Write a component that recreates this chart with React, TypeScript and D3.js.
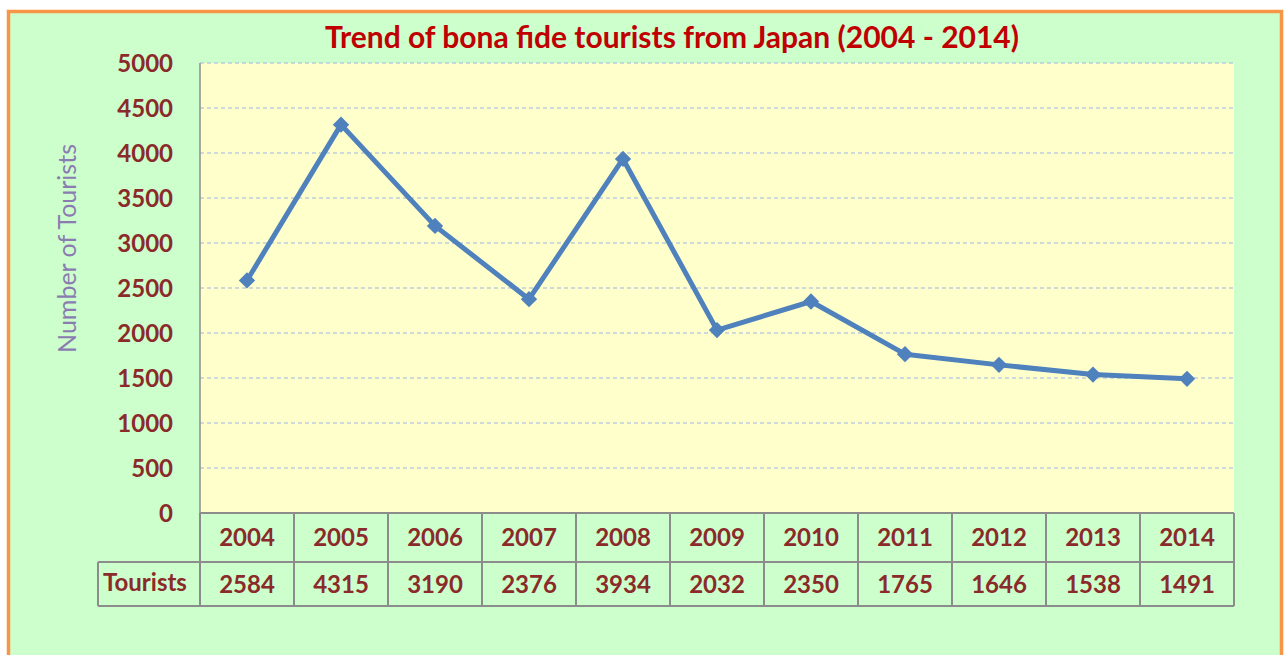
import React from "react";
import * as d3 from "d3";

const years: string[] = ["2004", "2005", "2006", "2007", "2008", "2009", "2010", "2011", "2012", "2013", "2014"];
const tourists: number[] = [2584, 4315, 3190, 2376, 3934, 2032, 2350, 1765, 1646, 1538, 1491];
const yTicks: number[] = [0, 500, 1000, 1500, 2000, 2500, 3000, 3500, 4000, 4500, 5000];
const titleText = "Trend of bona fide tourists from Japan (2004 - 2014)";
const yAxisTitle = "Number of Tourists";
const rowLabel = "Tourists";

const W = 1286;
const H = 655;
const plotL = 200;
const plotR = 1234;
const plotT = 63;
const plotB = 513;
const row1B = 562;
const row2B = 606;
const labelL = 98;

const FONT = "Lato, 'Open Sans', sans-serif";
const TXT = "#8B2A2A";

export default function App() {
  const x = d3.scaleBand<string>().domain(years).range([plotL, plotR]);
  const y = d3.scaleLinear().domain([0, 5000]).range([plotB, plotT]);
  const pts: [number, number][] = years.map((yr, i) => [x(yr)! + x.bandwidth() / 2, y(tourists[i])]);
  const line = d3.line<[number, number]>().x((d) => d[0]).y((d) => d[1])(pts) || "";
  const diamond = d3.symbol().type(d3.symbolDiamond2).size(170)() || "";

  return (
    <svg width={W} height={H} style={{ position: "absolute", left: 0, top: 0, background: "#fff" }}>
      <rect x={8.5} y={11.5} width={1273} height={700} fill="#CCFFCC" stroke="#F79646" strokeWidth={3.5} />
      <text x={672} y={48} textAnchor="middle" fontFamily={FONT} fontWeight={700} fontSize={30} fill="#C00000">
        {titleText}
      </text>
      <rect x={plotL} y={plotT} width={plotR - plotL} height={plotB - plotT} fill="#FFFFCC" />
      {yTicks.filter((t) => t > 0).map((t) => (
        <line key={t} x1={plotL} x2={plotR + 1} y1={y(t)} y2={y(t)} stroke="#9DB5E3" strokeWidth={1} strokeDasharray="4,3" />
      ))}
      <line x1={plotL} x2={plotL} y1={plotT} y2={plotB} stroke="#8C8C8C" strokeWidth={1.5} />
      {yTicks.map((t) => (
        <text key={t} x={173} y={y(t)} dy="0.36em" textAnchor="end" fontFamily={FONT} fontWeight={700} fontSize={24} fill={TXT}>
          {t}
        </text>
      ))}
      <text
        transform={`translate(76,${(145 + 352) / 2}) rotate(-90)`}
        textAnchor="middle"
        fontFamily={FONT}
        fontSize={25}
        fill="#8A7CB0"
      >
        {yAxisTitle}
      </text>
      {/* data table */}
      <g stroke="#8C8C8C" strokeWidth={2} fill="none">
        <line x1={plotL} x2={plotR} y1={plotB} y2={plotB} />
        <line x1={labelL} x2={plotR} y1={row1B} y2={row1B} />
        <line x1={labelL} x2={plotR} y1={row2B} y2={row2B} />
        <line x1={labelL} x2={labelL} y1={row1B} y2={row2B} />
        <line x1={plotL} x2={plotL} y1={plotB} y2={row2B} />
        {years.map((yr) => (
          <line key={yr} x1={x(yr)! + x.bandwidth()} x2={x(yr)! + x.bandwidth()} y1={plotB} y2={row2B} />
        ))}
      </g>
      {years.map((yr, i) => (
        <g key={yr} fontFamily={FONT} fontWeight={700} fontSize={24} fill={TXT} textAnchor="middle">
          <text x={x(yr)! + x.bandwidth() / 2} y={(plotB + row1B) / 2} dy="0.36em">{yr}</text>
          <text x={x(yr)! + x.bandwidth() / 2} y={(row1B + row2B) / 2} dy="0.36em">{tourists[i]}</text>
        </g>
      ))}
      <text x={labelL + 5} y={(row1B + row2B) / 2} dy="0.3em" fontFamily={FONT} fontWeight={700} fontSize={24} fill={TXT}>
        {rowLabel}
      </text>
      <path d={line} fill="none" stroke="#4F81BD" strokeWidth={5} strokeLinejoin="round" />
      {pts.map((p, i) => (
        <path key={i} d={diamond} transform={`translate(${p[0]},${p[1]})`} fill="#4F81BD" />
      ))}
    </svg>
  );
}
